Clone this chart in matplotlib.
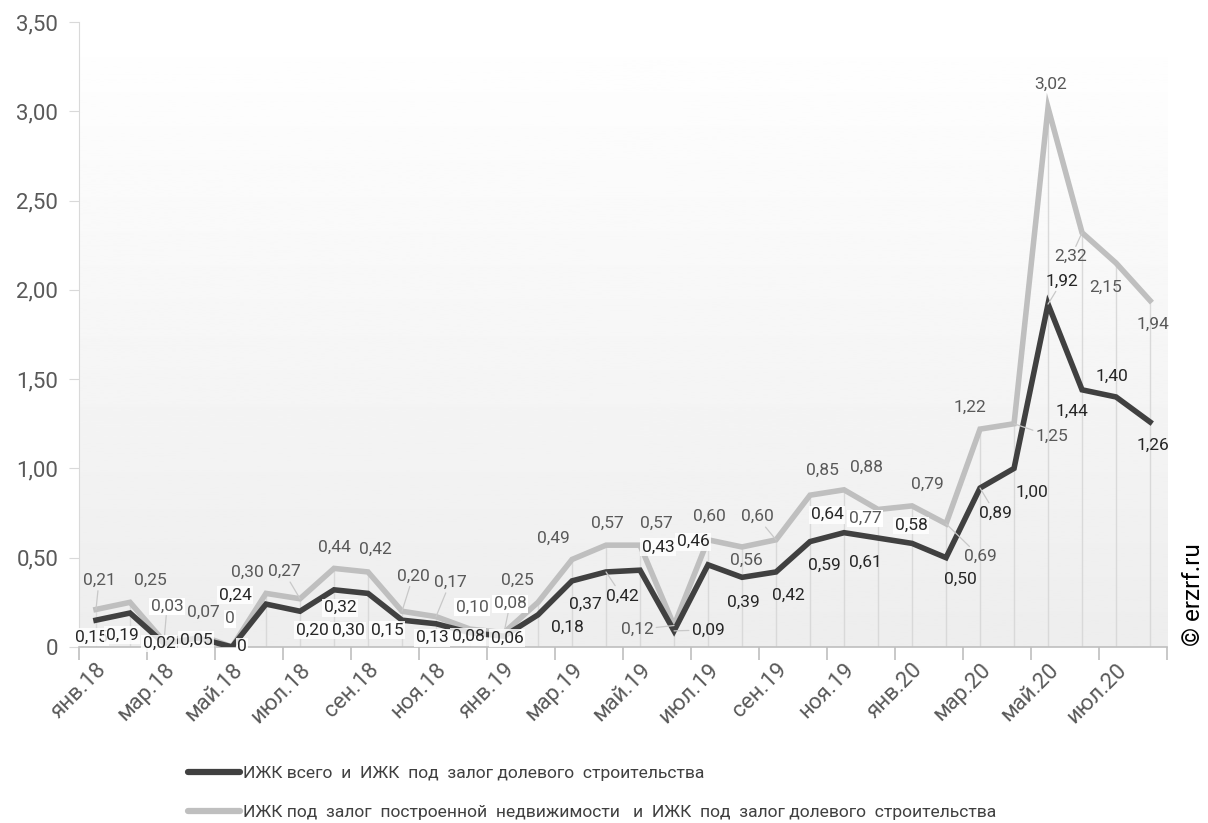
import numpy as np
import matplotlib.pyplot as plt
from matplotlib.lines import Line2D

plt.rcParams['font.family'] = ['Roboto', 'DejaVu Sans']

# months янв.18 .. авг.20
months = ['янв.18', 'фев.18', 'мар.18', 'апр.18', 'май.18', 'июн.18', 'июл.18', 'авг.18',
          'сен.18', 'окт.18', 'ноя.18', 'дек.18', 'янв.19', 'фев.19', 'мар.19', 'апр.19',
          'май.19', 'июн.19', 'июл.19', 'авг.19', 'сен.19', 'окт.19', 'ноя.19', 'дек.19',
          'янв.20', 'фев.20', 'мар.20', 'апр.20', 'май.20', 'июн.20', 'июл.20', 'авг.20']

total = [0.15, 0.19, 0.02, 0.05, 0.00, 0.24, 0.20, 0.32, 0.30, 0.15, 0.13, 0.08,
         0.06, 0.18, 0.37, 0.42, 0.43, 0.09, 0.46, 0.39, 0.42, 0.59, 0.64, 0.61,
         0.58, 0.50, 0.89, 1.00, 1.92, 1.44, 1.40, 1.26]
built = [0.21, 0.25, 0.03, 0.07, 0.00, 0.30, 0.27, 0.44, 0.42, 0.20, 0.17, 0.10,
         0.08, 0.25, 0.49, 0.57, 0.57, 0.12, 0.60, 0.56, 0.60, 0.85, 0.88, 0.77,
         0.79, 0.69, 1.22, 1.25, 3.02, 2.32, 2.15, 1.94]

label_total = 'ИЖК всего  и  ИЖК  под  залог долевого  строительства'
label_built = 'ИЖК под  залог  построенной  недвижимости   и  ИЖК  под  залог долевого  строительства'

# label offsets in pixels (x right, y down) as placed in the original
off_total = [(-5, 17), (-8, 22), (-5, 0), (-2, 2), (10, 0), (-31, -9), (12, 19), (6, 18),
             (-20, 37), (-15, 10), (-4, 14), (-2, 4), (3, 2), (29, 13), (13, 23), (16, 24),
             (18, -23), (34, -1), (-15, -23), (1, 25), (12, 23), (14, 24), (-17, -18), (-13, 24),
             (-1, -18), (14, 22), (15, 25), (18, 24), (14, -23), (-10, 22), (-4, -21), (3, 23)]
off_built = [(3, -29), (20, -22), (3, -35), (5, -22), (-2, -28), (-19, -21), (-16, -27), (0, -21),
             (7, -23), (11, -35), (14, -34), (2, -22), (6, -29), (-21, -22), (-19, -21), (1, -22),
             (16, -22), (-37, 4), (1, -23), (4, 13), (-19, -23), (12, -25), (22, -22), (-13, 9),
             (15, -22), (34, 33), (-10, -22), (38, 13), (3, -23), (-11, 24), (-10, 24), (3, 24)]
leader_total = {15, 17, 26, 28}
leader_built = {0, 2, 6, 9, 10, 12, 17, 20, 25, 27, 29}
box_total = {0, 1, 2, 3, 4, 5, 6, 7, 8, 9, 10, 11, 12, 16, 18, 22, 24}
box_built = {2, 4, 11, 12, 23}

fig = plt.figure(figsize=(12.08, 8.23), dpi=100)
ax = fig.add_axes([0.0654, 0.2139, 0.9007, 0.7594])

x = np.arange(len(months))

# background gradient
grad = np.linspace(1.0, 0.93, 256).reshape(-1, 1)
ax.imshow(grad, extent=[0, 1, 0, 1], transform=ax.transAxes, aspect='auto',
          cmap='gray', vmin=0, vmax=1, zorder=0)

ax.vlines(x, 0, built, color='#d9d9d9', lw=1, zorder=1)
ax.plot(x, built, color='#bfbfbf', lw=4, zorder=2, solid_joinstyle='miter')
ax.plot(x, total, color='#404040', lw=4, zorder=3, solid_joinstyle='miter')


def fmt(v):
    return '0' if v == 0 else f'{v:.2f}'.replace('.', ',')


for i, v in enumerate(built):
    dx, dy = off_built[i]
    ax.annotate(fmt(v), (i, v), xytext=(dx, -dy), textcoords='offset pixels',
                ha='center', va='center', fontsize=12.5, color='#595959', zorder=4,
                bbox=dict(fc='white', ec='none', pad=1) if i in box_built else None,
                arrowprops=dict(arrowstyle='-', color='#c8c8c8', lw=0.9, shrinkA=0, shrinkB=0)
                if i in leader_built else None)
for i, v in enumerate(total):
    dx, dy = off_total[i]
    ax.annotate(fmt(v), (i, v), xytext=(dx, -dy), textcoords='offset pixels',
                ha='center', va='center', fontsize=12.5, color='#262626', zorder=5,
                bbox=dict(fc='white', ec='none', pad=1, alpha=0.85) if i in box_total else None,
                arrowprops=dict(arrowstyle='-', color='#c8c8c8', lw=0.9, shrinkA=0, shrinkB=0)
                if i in leader_total else None)

ax.set_xlim(-0.5, len(months) - 0.5)
ax.set_ylim(0, 3.5)

yt = np.arange(0, 3.51, 0.5)
ax.set_yticks(yt)
ax.set_yticklabels([fmt(v) for v in yt], fontsize=16, color='#595959')
ax.tick_params(axis='y', length=7, color='#d9d9d9', pad=8)

ax.set_xticks(x[::2])
ax.set_xticklabels(months[::2], rotation=45, ha='right', va='top',
                   rotation_mode='anchor', fontsize=16, color='#595959')
ax.set_xticks(np.arange(-0.5, len(months), 2), minor=True)
ax.tick_params(axis='x', which='major', length=0, pad=9)
ax.tick_params(axis='x', which='minor', length=9, color='#bfbfbf', width=1.2)

for s in ['top', 'right']:
    ax.spines[s].set_visible(False)
ax.spines['left'].set_color('#d9d9d9')
ax.spines['bottom'].set_color('#bfbfbf')
ax.spines['bottom'].set_linewidth(1.2)

handles = [Line2D([], [], color='#404040', lw=4.5, solid_capstyle='round'),
           Line2D([], [], color='#bfbfbf', lw=4.5, solid_capstyle='round')]
fig.legend(handles, [label_total, label_built], loc='upper left',
           bbox_to_anchor=(0.15, 0.0784), frameon=False, fontsize=12.6,
           handlelength=2.95, handletextpad=0.2, labelspacing=1.37,
           labelcolor='#404040', borderaxespad=0)

fig.text(0.988, 0.278, '© erzrf.ru', rotation=90, fontsize=17.5, color='black',
         ha='center', va='center')

fig.savefig('out.png', dpi=100)
